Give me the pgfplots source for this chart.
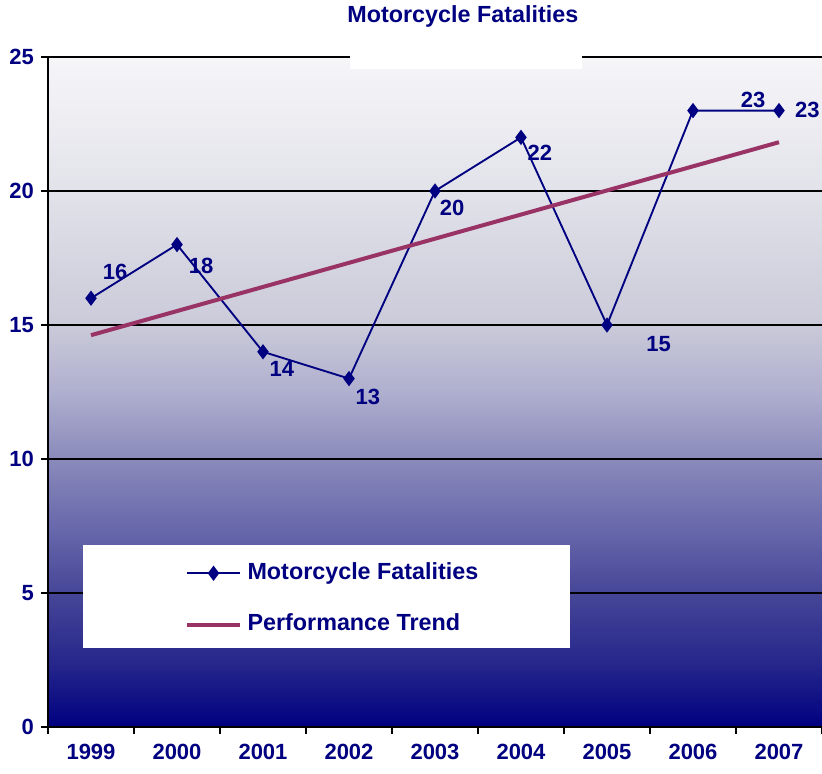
\documentclass[border=0pt]{standalone}
\usepackage{pgfplots}
\pgfplotsset{compat=1.18}
\usepackage{fontspec}
\setmainfont{Liberation Sans}
\definecolor{navyt}{RGB}{0,0,128}
\definecolor{trend}{RGB}{153,51,102}
\definecolor{bg0}{RGB}{0,0,128}
\definecolor{bg1}{RGB}{40,40,140}
\definecolor{bg2}{RGB}{70,70,152}
\definecolor{bg3}{RGB}{105,105,172}
\definecolor{bg4}{RGB}{138,138,187}
\definecolor{bg5}{RGB}{175,175,207}
\definecolor{bg6}{RGB}{202,202,217}
\definecolor{bg8}{RGB}{226,226,234}
\definecolor{bg10}{RGB}{246,246,249}
\pgfdeclareverticalshading{chartbg}{100bp}{color(0bp)=(bg0); color(25bp)=(bg0); color(30bp)=(bg1); color(35bp)=(bg2); color(40bp)=(bg3); color(45bp)=(bg4); color(50bp)=(bg5); color(55bp)=(bg6); color(65bp)=(bg8); color(75bp)=(bg10); color(100bp)=(bg10)}
\newcommand{\bigfont}{\bfseries\fontsize{16.5}{19}\selectfont}
\newcommand{\titfont}{\bfseries\fontsize{17.5}{20}\selectfont}
\pgfplotsset{
  markleg/.style={legend image code/.code={\draw[mark repeat=2,mark phase=2,##1] plot coordinates {(0pt,0pt) (20pt,0pt) (40pt,0pt)};}},
  lineleg/.style={legend image code/.code={\draw[##1] (0pt,0pt) -- (40pt,0pt);}},
}
\begin{document}
\begin{tikzpicture}
\path[use as bounding box] (-36pt,-35.25pt) rectangle (580.5pt,545.25pt);
\begin{axis}[
  at={(0,0)}, anchor=south west,
  scale only axis,
  width=580.5pt, height=502.5pt,
  xmin=-0.5, xmax=8.5, ymin=0, ymax=25,
  clip=false,
  axis x line*=bottom, axis y line*=left,
  axis line style={line width=2pt, black, -},
  axis background/.style={shading=chartbg},
  xtick={0,...,8},
  xticklabels={1999,2000,2001,2002,2003,2004,2005,2006,2007},
  minor xtick={-0.5,0.5,...,8.5},
  ytick={0,5,...,25},
  tick align=outside,
  major tick length=5pt,
  minor tick length=5pt,
  major x tick style={draw=none},
  minor x tick style={line width=2pt, black},
  major y tick style={line width=2pt, black},
  ymajorgrids,
  major grid style={line width=1.2pt, black},
  /pgf/number format/assume math mode=true,
  ticklabel style={font=\bigfont, text=navyt},
  xticklabel style={yshift=-4.5pt},
  yticklabel style={xshift=-2pt},
  legend cell align=left,
  legend style={at={(axis description cs:0.1765,0.2448)}, anchor=north west,
    draw=none, fill=none, inner sep=0pt, row sep=23.5pt, column sep=4pt,
    font=\titfont, text=navyt,
    nodes={inner sep=0pt, text height=12pt, text depth=3pt}},
]
\fill[white] (axis description cs:0.0452,0.118) rectangle (axis description cs:0.674,0.2716);
\fill[white] (axis description cs:0.390,0.982) rectangle (axis description cs:0.690,1.1);
\addplot[navyt, line width=1.4pt, mark=diamond*, mark size=4.6pt, mark options={solid, fill=navyt}, markleg]
  coordinates {(0,16) (1,18) (2,14) (3,13) (4,20) (5,22) (6,15) (7,23) (8,23)};
\addlegendentry{Motorcycle Fatalities}
\addplot[trend, line width=3pt, lineleg]
  coordinates {(0,14.62) (8,21.82)};
\addlegendentry{Performance Trend}
\begin{scope}[every node/.style={font=\bigfont, text=navyt}]
\node at (axis cs:0.28,16.98) {16};
\node at (axis cs:1.28,17.2) {18};
\node at (axis cs:2.22,13.36) {14};
\node at (axis cs:3.22,12.31) {13};
\node at (axis cs:4.20,19.37) {20};
\node at (axis cs:5.22,21.42) {22};
\node at (axis cs:6.60,14.29) {15};
\node at (axis cs:7.70,23.4) {23};
\node at (axis cs:8.33,23.02) {23};
\end{scope}
\node[font=\titfont, text=navyt] at (axis description cs:0.536,1.0605) {Motorcycle Fatalities};
\end{axis}
\end{tikzpicture}
\end{document}
